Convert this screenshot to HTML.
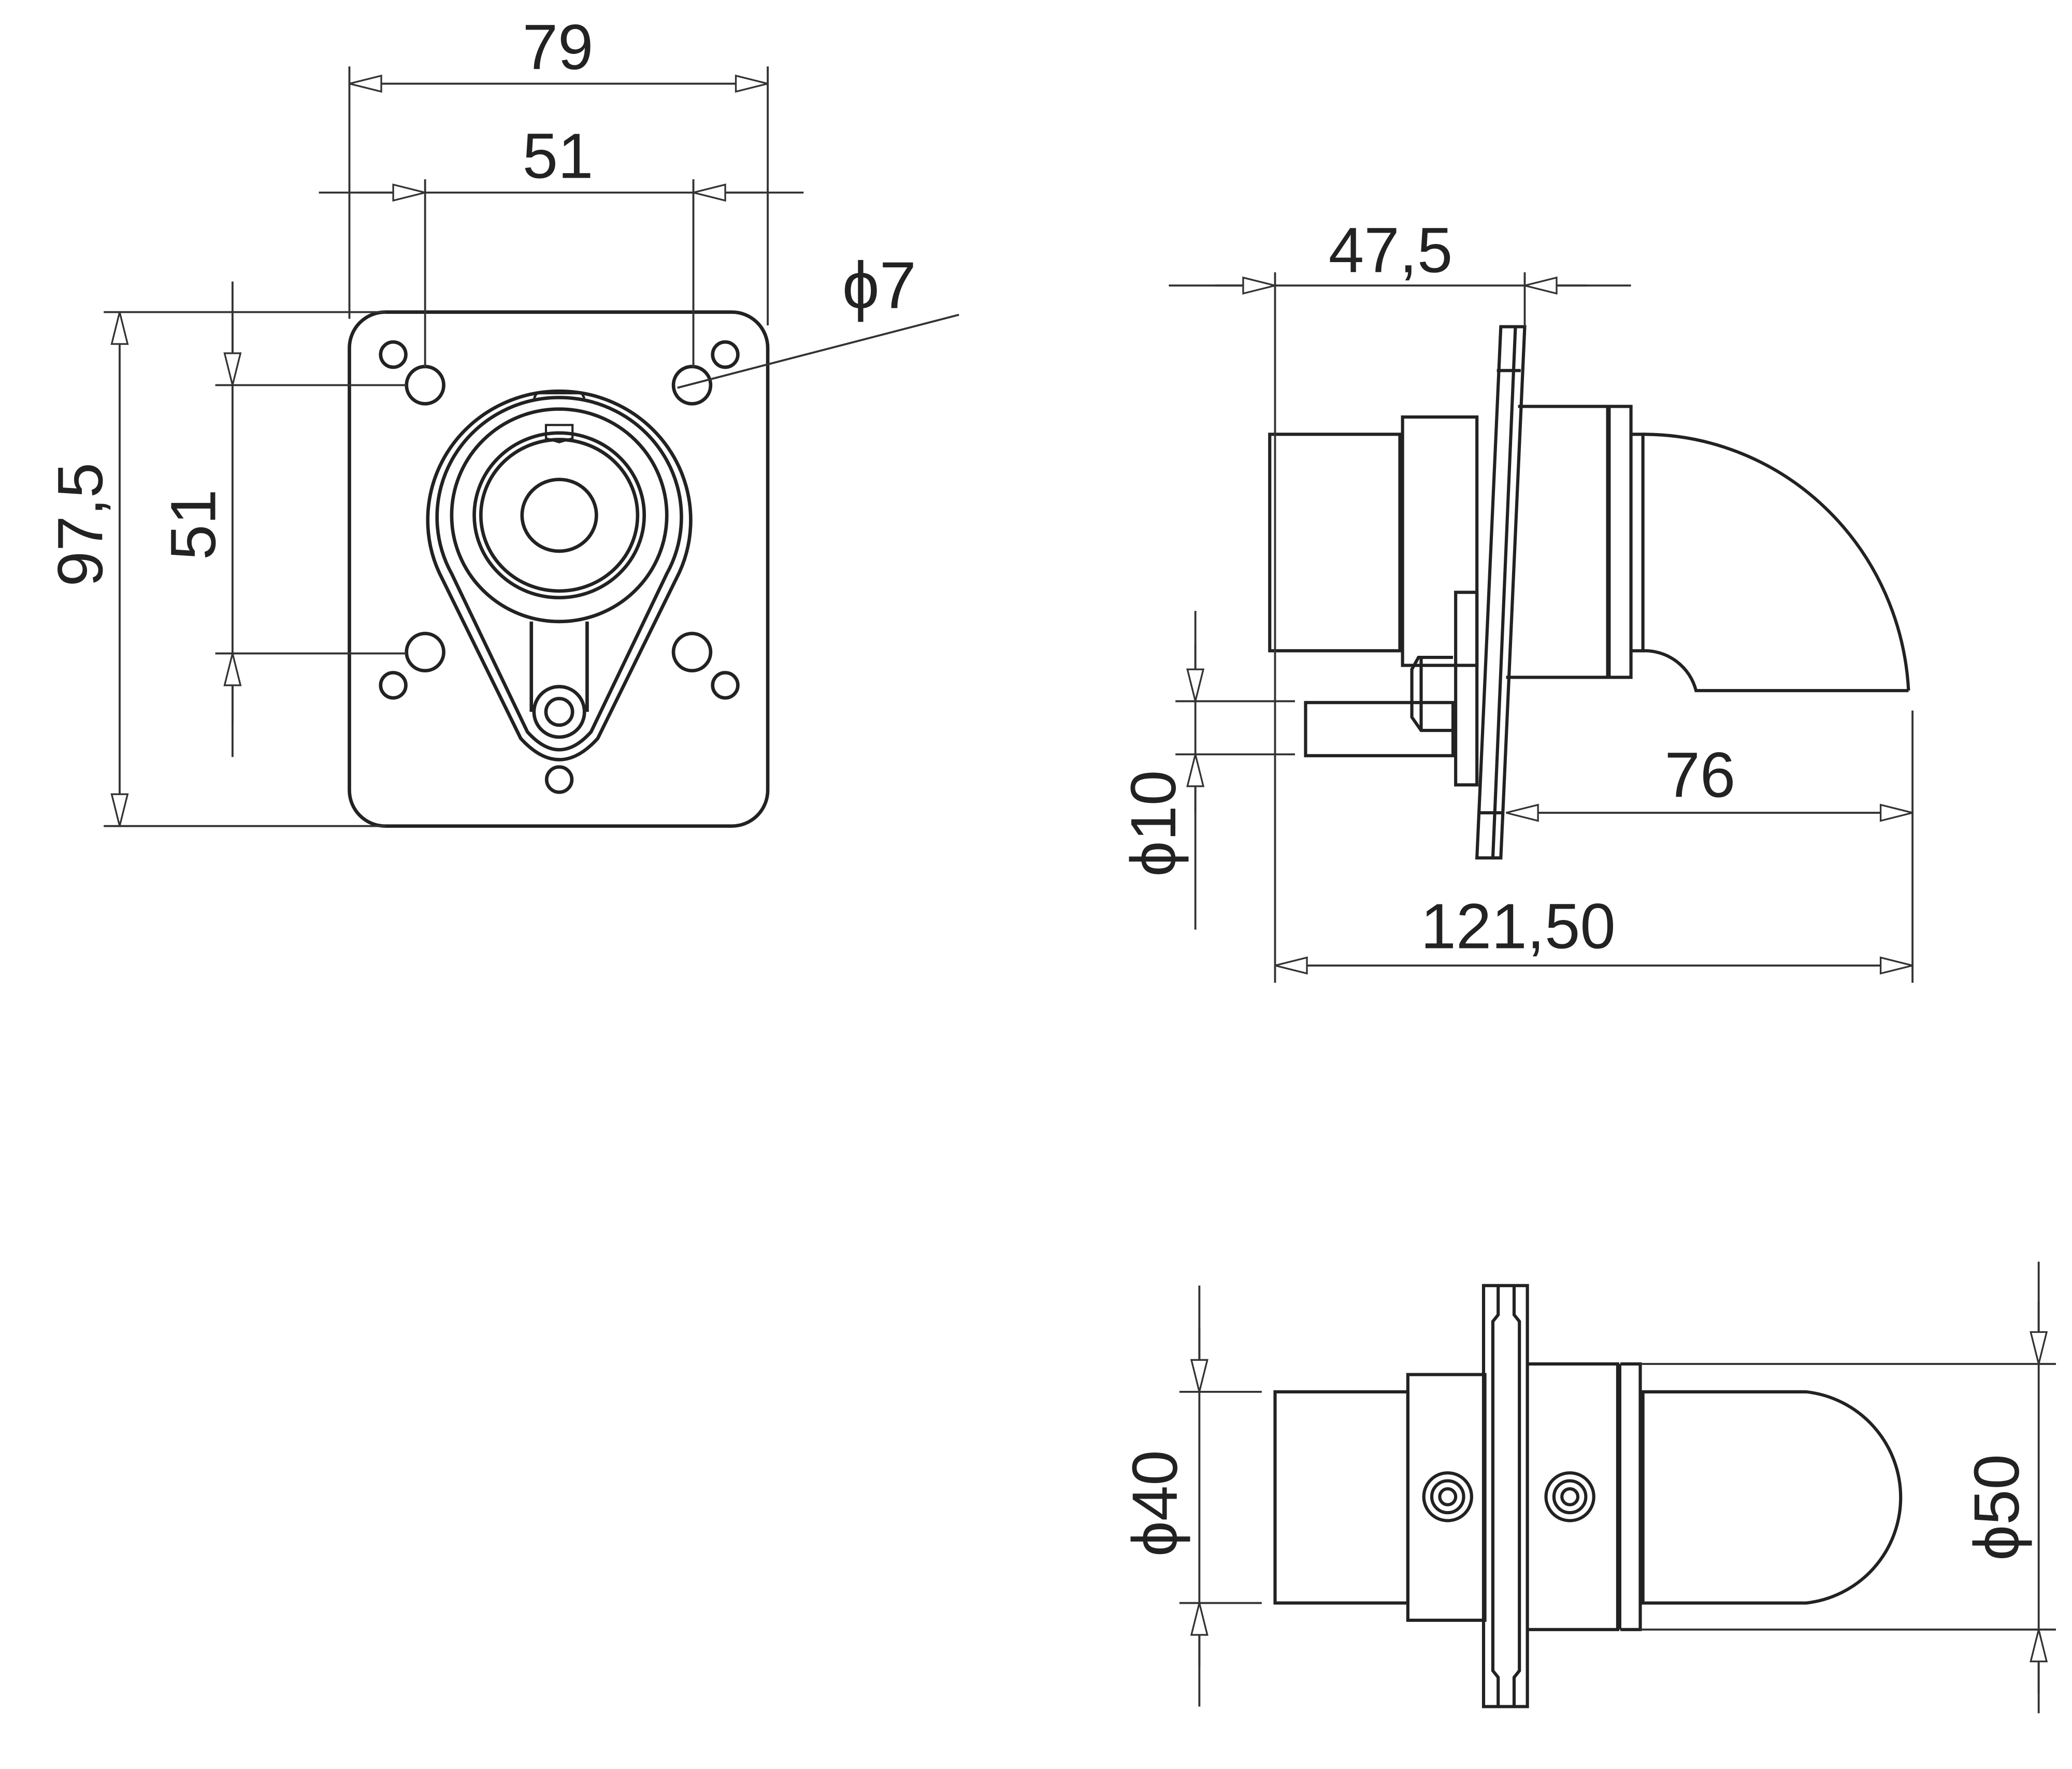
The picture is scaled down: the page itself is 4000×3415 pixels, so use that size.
<!DOCTYPE html>
<html><head><meta charset="utf-8"><style>
html,body{margin:0;padding:0;background:#fff}
svg{display:block}
text{font-family:"Liberation Sans","DejaVu Sans",sans-serif;fill:#222}
</style></head><body>
<svg width="4000" height="3415" viewBox="0 0 1560 1332" xmlns="http://www.w3.org/2000/svg">
<defs>
<marker id="a" markerUnits="userSpaceOnUse" markerWidth="30" markerHeight="16" refX="26" refY="8" orient="auto-start-reverse" viewBox="0 0 30 16">
<path d="M26,8 L2,2 L2,14 Z" fill="#fff" stroke="#333" stroke-width="1.3"/>
</marker>
</defs>
<rect width="1560" height="1332" fill="#fff"/>

<!-- ===== FRONT VIEW ===== -->
<g fill="none" stroke="#222" stroke-width="2.6">
<rect x="263" y="235" width="315" height="387" rx="27"/>
<circle cx="296" cy="267" r="9.5"/><circle cx="546" cy="267" r="9.5"/>
<circle cx="296" cy="516" r="9.5"/><circle cx="546" cy="516" r="9.5"/>
<circle cx="421" cy="587" r="9.5"/>
<circle cx="320" cy="290" r="14"/><circle cx="521" cy="290" r="14"/>
<circle cx="320" cy="491" r="14"/><circle cx="521" cy="491" r="14"/>
<path d="M333,436 A99,97 0 1 1 509,436 L450,556 Q421,588 392,556 Z"/>
<path d="M340,432 A92,90 0 1 1 502,432 L445,551 Q421,578 397,551 Z"/>
<ellipse cx="421" cy="388" rx="81" ry="80"/>
<ellipse cx="421" cy="388" rx="64" ry="62"/>
<ellipse cx="421" cy="388" rx="59" ry="57"/>
<ellipse cx="421" cy="388" rx="28" ry="27"/>
<path d="M402,300 L404,296 L438,296 L440,300" stroke-width="1.8"/>
<path d="M411,330 L411,320 L431,320 L431,330 L421,333 Z" stroke-width="1.6"/>
<path d="M400,468 L400,536 M442,468 L442,536"/>
<circle cx="421" cy="536" r="19"/>
<circle cx="421" cy="536" r="10"/>
</g>
<g fill="none" stroke="#333" stroke-width="1.5">
<line x1="263" y1="50" x2="263" y2="240"/>
<line x1="578" y1="50" x2="578" y2="245"/>
<line x1="263" y1="63" x2="578" y2="63" marker-start="url(#a)" marker-end="url(#a)"/>
<line x1="320" y1="135" x2="320" y2="277"/>
<line x1="522" y1="135" x2="522" y2="277"/>
<line x1="240" y1="145" x2="605" y2="145"/>
<line x1="270" y1="145" x2="320" y2="145" marker-end="url(#a)"/>
<line x1="575" y1="145" x2="522" y2="145" marker-end="url(#a)"/>
<line x1="78" y1="235" x2="290" y2="235"/>
<line x1="78" y1="622" x2="290" y2="622"/>
<line x1="90" y1="235" x2="90" y2="622" marker-start="url(#a)" marker-end="url(#a)"/>
<line x1="162" y1="290" x2="306" y2="290"/>
<line x1="162" y1="492" x2="306" y2="492"/>
<line x1="175" y1="212" x2="175" y2="570"/>
<line x1="175" y1="240" x2="175" y2="290" marker-end="url(#a)"/>
<line x1="175" y1="545" x2="175" y2="492" marker-end="url(#a)"/>
<line x1="722" y1="237" x2="510" y2="292"/>
</g>
<text x="420" y="52" font-size="48" text-anchor="middle">79</text>
<text x="420" y="134" font-size="48" text-anchor="middle">51</text>
<text transform="translate(77,395) rotate(-90)" font-size="48" text-anchor="middle">97,5</text>
<text transform="translate(162,395) rotate(-90)" font-size="48" text-anchor="middle">51</text>
<text x="662" y="232" font-size="50" text-anchor="middle">ϕ7</text>

<!-- ===== SIDE VIEW ===== -->
<g fill="none" stroke="#222" stroke-width="2.4">
<rect x="956" y="327" width="98" height="163"/>
<rect x="1056" y="314" width="56" height="187"/>
<path d="M1130,246 L1148,246 L1130,646 L1112,646 Z"/>
<path d="M1141,246 L1124,646"/>
<path d="M1127,279 L1145,279 M1114,612 L1132,612"/>
<path d="M1143,306 L1228,306 L1228,510 L1134,510"/>
<line x1="1211" y1="306" x2="1211" y2="510" stroke-width="3.5"/>
<path d="M1228,327 L1237,327 L1237,490 L1228,490"/>
<path d="M1237,327 A200,204 0 0 1 1437,520"/>
<path d="M1237,490 A40,40 0 0 1 1277,520 L1437,520"/>
<rect x="1096" y="446" width="16" height="145"/>
<path d="M1094,495 L1068,495 L1063,504 L1063,540 L1070,550 L1094,550"/>
<line x1="1070" y1="495" x2="1070" y2="550"/>
<rect x="983" y="529" width="111" height="40"/>
</g>
<g fill="none" stroke="#333" stroke-width="1.5">
<line x1="960" y1="205" x2="960" y2="740"/>
<line x1="1148" y1="205" x2="1148" y2="246"/>
<line x1="880" y1="215" x2="1228" y2="215"/>
<line x1="915" y1="215" x2="960" y2="215" marker-end="url(#a)"/>
<line x1="1195" y1="215" x2="1148" y2="215" marker-end="url(#a)"/>
<line x1="1440" y1="535" x2="1440" y2="740"/>
<line x1="1134" y1="612" x2="1440" y2="612" marker-start="url(#a)" marker-end="url(#a)"/>
<line x1="960" y1="727" x2="1440" y2="727" marker-start="url(#a)" marker-end="url(#a)"/>
<line x1="885" y1="528" x2="975" y2="528"/>
<line x1="885" y1="568" x2="975" y2="568"/>
<line x1="900" y1="460" x2="900" y2="700"/>
<line x1="900" y1="485" x2="900" y2="528" marker-end="url(#a)"/>
<line x1="900" y1="612" x2="900" y2="568" marker-end="url(#a)"/>
</g>
<text x="1047" y="205" font-size="48" text-anchor="middle">47,5</text>
<text x="1280" y="600" font-size="48" text-anchor="middle">76</text>
<text x="1143" y="714" font-size="48" text-anchor="middle">121,50</text>
<text transform="translate(885,620) rotate(-90)" font-size="48" text-anchor="middle">ϕ10</text>

<!-- ===== BOTTOM VIEW ===== -->
<g fill="none" stroke="#222" stroke-width="2.4">
<rect x="960" y="1048" width="100" height="159"/>
<rect x="1060" y="1035" width="58" height="185"/>
<rect x="1117" y="968" width="33" height="317"/>
<path d="M1128,968 L1128,990 L1124,995 L1124,1258 L1128,1263 L1128,1285"/>
<path d="M1140,968 L1140,990 L1144,995 L1144,1258 L1140,1263 L1140,1285"/>
<path d="M1150,1027 L1218,1027 L1218,1227 L1150,1227"/>
<line x1="1219" y1="1027" x2="1219" y2="1227" stroke-width="3.5"/>
<path d="M1220,1027 L1235,1027 L1235,1227 L1220,1227"/>
<path d="M1237,1048 L1360,1048 A80,80 0 0 1 1360,1207 L1237,1207 Z"/>
<circle cx="1090" cy="1127" r="18"/><circle cx="1090" cy="1127" r="12"/><circle cx="1090" cy="1127" r="6"/>
<circle cx="1182" cy="1127" r="18"/><circle cx="1182" cy="1127" r="12"/><circle cx="1182" cy="1127" r="6"/>
</g>
<g fill="none" stroke="#333" stroke-width="1.5">
<line x1="888" y1="1048" x2="950" y2="1048"/>
<line x1="888" y1="1207" x2="950" y2="1207"/>
<line x1="903" y1="968" x2="903" y2="1285"/>
<line x1="903" y1="1000" x2="903" y2="1048" marker-end="url(#a)"/>
<line x1="903" y1="1255" x2="903" y2="1207" marker-end="url(#a)"/>
<line x1="1235" y1="1027" x2="1548" y2="1027"/>
<line x1="1235" y1="1227" x2="1548" y2="1227"/>
<line x1="1535" y1="950" x2="1535" y2="1290"/>
<line x1="1535" y1="980" x2="1535" y2="1027" marker-end="url(#a)"/>
<line x1="1535" y1="1275" x2="1535" y2="1227" marker-end="url(#a)"/>
</g>
<text transform="translate(886,1132) rotate(-90)" font-size="48" text-anchor="middle">ϕ40</text>
<text transform="translate(1520,1135) rotate(-90)" font-size="48" text-anchor="middle">ϕ50</text>
</svg>
</body></html>
